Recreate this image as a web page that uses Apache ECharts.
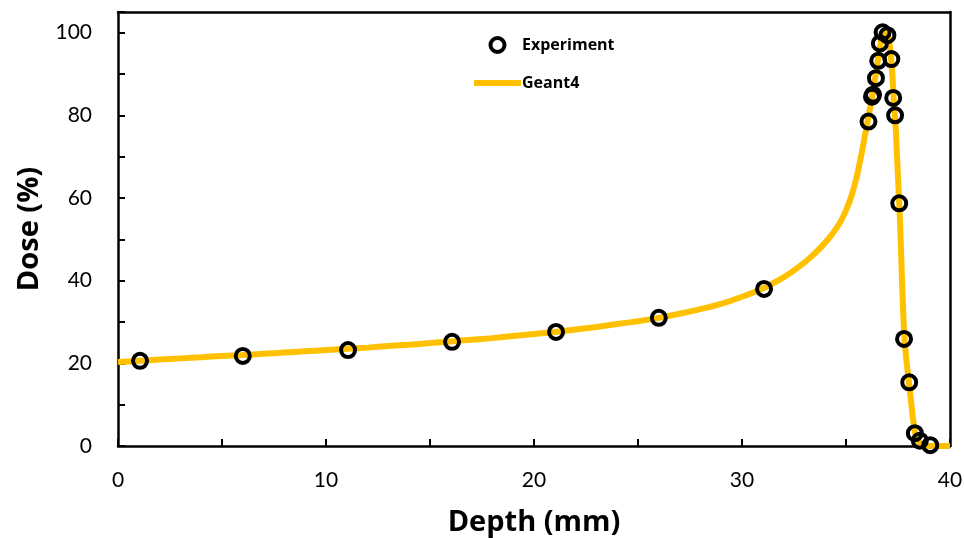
<!DOCTYPE html>
<html>
<head>
<meta charset="utf-8">
<script src="https://cdn.jsdelivr.net/npm/echarts@6/dist/echarts.min.js"></script>
<style>html,body{margin:0;padding:0;background:#fff}#c{width:964px;height:538px}</style>
</head>
<body>
<div id="c"></div>
<script>
// Geant4 simulated depth-dose curve
const geantX = [0,1,2,3,4,5,6,7,8,9,10,11,12,13,14,15,16,17,18,19,20,21,22,23,24,25,26,27,28,29,30,31,32,32.5,33,33.5,34,34.25,34.5,34.75,35,35.25,35.5,35.75,36,36.2,36.4,36.6,36.75,36.88,37.0,37.1,37.2,37.3,37.4,37.5,37.6,37.7,37.8,37.9,38.0,38.1,38.2,38.3,38.4,38.5,38.6,38.8,39,40];
const geantY = [20.3,20.6,20.9,21.2,21.5,21.8,22.0,22.3,22.6,22.9,23.2,23.5,23.8,24.2,24.5,24.9,25.3,25.7,26.1,26.6,27.1,27.6,28.2,28.8,29.5,30.2,31.0,32.0,33.1,34.4,36.1,38.1,40.8,42.5,44.4,46.6,49.2,50.7,52.4,54.4,57.0,60.3,64.8,70.8,77.5,83.0,89.0,95.5,99.3,100.2,99.6,97.0,92.0,83.5,76.0,65.0,54.0,39.0,27.0,21.0,16.5,12.0,7.5,3.8,1.9,1.0,0.5,0.1,0,0];
// Experimental measurements
const expX = [1.06,6.0,11.06,16.06,21.06,26.0,31.06,36.08,36.25,36.3,36.44,36.55,36.63,36.76,36.99,37.18,37.27,37.36,37.56,37.79,38.04,38.31,38.55,39.05];
const expY = [20.6,21.8,23.2,25.2,27.6,31.0,38.0,78.5,84.5,85.0,89.0,93.2,97.4,100.1,99.4,93.6,84.2,80.0,58.7,25.9,15.4,3.1,1.3,0.2];
const xName = 'Depth (mm)';
const yName = 'Dose (%)';

const FONT = 'Lato';
const TFONT = 'Open Sans';
const chart = echarts.init(document.getElementById('c'));
const frameAxis = { show: true, axisLine: { onZero: false, lineStyle: { color: '#000', width: 2.5 } }, axisTick: { show: false }, axisLabel: { show: false }, splitLine: { show: false } };
chart.setOption({
  animation: false,
  backgroundColor: '#fff',
  grid: { left: 118, right: 14, top: 12, bottom: 92, containLabel: false, outerBoundsMode: 'none' },
  legend: {
    left: 469, top: 31, orient: 'vertical', itemWidth: 47, itemHeight: 14, itemGap: 20,
    textStyle: { fontFamily: TFONT, fontWeight: 'bold', fontSize: 16, lineHeight: 18, color: '#000', padding: [0,0,0,-4] },
    data: [
      { name: 'Experiment', icon: 'circle', itemStyle: { color: '#fff', borderColor: '#000', borderWidth: 4 } },
      { name: 'Geant4', icon: 'path://M0,0H47V6H0Z', itemStyle: { color: '#FFC000' } }
    ]
  },
  xAxis: [{
    type: 'value', min: 0, max: 40, interval: 5,
    name: xName, nameLocation: 'middle', nameGap: 62,
    nameTextStyle: { fontFamily: TFONT, fontWeight: 'bold', fontSize: 29, color: '#000' },
    axisLine: { onZero: false, lineStyle: { color: '#000', width: 2.5 } },
    axisTick: { inside: true, length: 7, lineStyle: { color: '#000', width: 2 } },
    axisLabel: { margin: 24, fontFamily: FONT, fontSize: 21, color: '#000', formatter: v => (v % 10 === 0 ? String(v) : '') },
    splitLine: { show: false }
  }, Object.assign({ type: 'value', position: 'top', min: 0, max: 40 }, frameAxis)],
  yAxis: [{
    type: 'value', min: 0, max: 105, interval: 10,
    name: yName, nameLocation: 'middle', nameGap: 72, nameRotate: 90,
    nameTextStyle: { fontFamily: TFONT, fontWeight: 'bold', fontSize: 29, color: '#000' },
    axisLine: { onZero: false, lineStyle: { color: '#000', width: 2.5 } },
    axisTick: { inside: true, length: 7, lineStyle: { color: '#000', width: 2 } },
    axisLabel: { margin: 26, fontFamily: FONT, fontSize: 21, color: '#000', formatter: v => (v % 20 === 0 && v <= 100 ? String(v) : '') },
    splitLine: { show: false }
  }, Object.assign({ type: 'value', position: 'right', min: 0, max: 105 }, frameAxis)],
  series: [
    {
      name: 'Geant4', type: 'line', data: geantX.map((x, i) => [x, geantY[i]]),
      showSymbol: false, symbol: 'none', smooth: 0.25, clip: false,
      lineStyle: { color: '#FFC000', width: 6 }, itemStyle: { color: '#FFC000' }, z: 2
    },
    {
      name: 'Experiment', type: 'scatter', data: expX.map((x, i) => [x, expY[i]]),
      symbol: 'circle', symbolSize: 14,
      itemStyle: { color: 'rgba(0,0,0,0)', borderColor: '#000', borderWidth: 4, opacity: 1 }, z: 3
    }
  ]
});
</script>
</body>
</html>
